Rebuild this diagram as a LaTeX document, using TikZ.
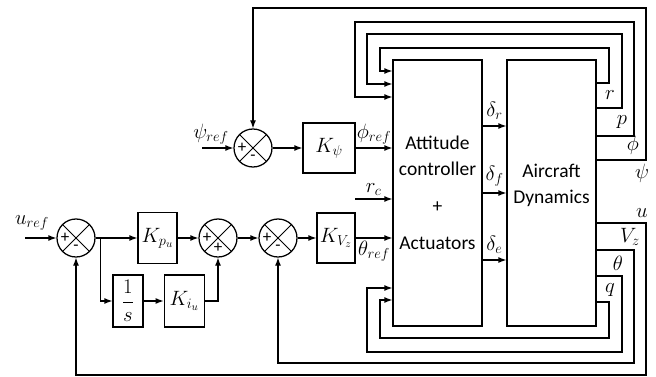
\documentclass[tikz,border=0pt]{standalone}
\usepackage{amsmath}
\usepackage{fontspec}
\setmainfont{Carlito}
\usetikzlibrary{arrows.meta,positioning}

\begin{document}
\begin{tikzpicture}[
    x=1pt, y=-1pt,
    line width=1.25pt,
    blk/.style={rectangle, draw, inner sep=0pt, align=center,
                font=\fontsize{21}{23}\selectfont},
    bigblk/.style={rectangle, draw, minimum width=89pt, minimum height=266pt,
                   align=center, font=\fontsize{19.5}{26}\selectfont},
    sumnode/.style={circle, draw, minimum size=38pt, inner sep=0pt},
    sgn/.style={font=\fontsize{17}{17}\selectfont, inner sep=0pt},
    lbl/.style={font=\fontsize{21}{23}\selectfont, inner sep=1pt},
    arrow/.style={-{Latex[length=8pt,width=6pt]}}
]
\useasboundingbox (0,0) rectangle (656,377);

%% ---- Blok utama ----
\node[bigblk] (att) at (437.5,193) {Attitude\\controller\\[11pt]+\\[11pt]Actuators};
\node[bigblk] (acd) at (551.5,193) {};
\node[font=\fontsize{19.5}{26}\selectfont, align=center] (acdtxt) at ([yshift=8pt]acd.center) {Aircraft\\Dynamics};

%% ---- Loop psi ----
\node[sumnode] (spsi) at (253,148) {};
\node[blk, minimum width=52pt, minimum height=50pt] (kpsi) at (329,148) {$K_\psi$};
\coordinate (psiin) at (202,148);
\node[lbl] (psireflbl) at (211,134) {$\psi_{ref}$};

%% ---- Loop u / Vz ----
\node[sumnode] (su)  at (76,238)  {};
\node[blk, minimum width=39pt, minimum height=51pt] (kpu) at (157.5,238) {$K_{p_u}$};
\node[sumnode] (spi) at (218,238) {};
\node[blk, minimum width=30pt, minimum height=52pt] (inv) at (128,301) {$\dfrac{1}{s}$};
\node[blk, minimum width=40pt, minimum height=52pt, right=20pt of inv] (kiu) {$K_{i_u}$};
\node[sumnode] (sv)  at (278,238) {};
\node[blk, minimum width=38pt, minimum height=50pt] (kvz) at (336,238) {$K_{V_z}$};
\coordinate (uin) at (25,238);
\node[lbl] (ureflbl) at (32,223) {$u_{ref}$};
\coordinate (rcin) at (355,199);

%% ---- Tanda sum ----
\foreach \s/\a/\b in {spsi/+/-, su/+/-, spi/+/+, sv/+/-} {
  \draw[line width=1pt] (\s.north west) -- (\s.south east)
                        (\s.north east) -- (\s.south west);
  \node[sgn] (\s-a) at ([xshift=-11pt]\s.center) {\a};
  \node[sgn] (\s-b) at ([yshift=-10pt]\s.center) {\b};
}

%% ---- Panah maju ----
\draw[arrow] (psiin)--(spsi.west);
\draw[arrow] (spsi)--(kpsi);
\draw[arrow] (kpsi.east)--(att.west |- kpsi)
    node[lbl, midway, above=2pt] {$\phi_{ref}$};
\draw[arrow] (rcin)--(att.west |- rcin)
    node[lbl, midway, above=2pt] {$r_c$};
\draw[arrow] (uin)--(su.west);
\draw[arrow] (su)--(kpu);
\draw[arrow] (kpu)--(spi);
\draw[arrow] ([xshift=5pt]su.east) |- (inv.west);
\draw[arrow] (inv)--(kiu);
\draw[arrow] (kiu.east) -| (spi.south);
\draw[arrow] (spi)--(sv);
\draw[arrow] (sv)--(kvz);
\draw[arrow] (kvz.east)--(att.west |- kvz)
    node[lbl, midway, below=1pt] {$\theta_{ref}$};
\draw[arrow] (att.east |- 0,126)--(acd.west |- 0,126)
    node[lbl, midway, above=5pt] {$\delta_r$};
\draw[arrow] (att.east |- 0,193)--(acd.west |- 0,193)
    node[lbl, midway, above=5pt] {$\delta_f$};
\draw[arrow] (att.east |- 0,260)--(acd.west |- 0,260)
    node[lbl, midway, above=5pt] {$\delta_e$};

%% ---- Umpan balik atas ----
\draw[arrow] (acd.east |- 0,83)  -| (609,48) -| (380,71) -- (att.west |- 0,71);
\draw[arrow] (acd.east |- 0,108) -| (622,34) -| (367,84) -- (att.west |- 0,84);
\draw[arrow] (acd.east |- 0,136) -| (634,22) -| (355,97) -- (att.west |- 0,97);
\draw[arrow] (acd.east |- 0,160) -| (646,8)  -| (spsi.north);

%% ---- Umpan balik bawah ----
\draw[arrow] (acd.east |- 0,223) -| (646,375) -| (su.south);
\draw[arrow] (acd.east |- 0,250) -| (634,363) -| (sv.south);
\draw[arrow] (acd.east |- 0,276) -| (622,352) -| (367,288) -- (att.west |- 0,288);
\draw[arrow] (acd.east |- 0,302) -| (609,338) -| (380,300) -- (att.west |- 0,300);

%% ---- Label keluaran ----
\node[lbl] (rlbl)   at (610,95)  {$r$};
\node[lbl] (plbl)   at (622,122) {$p$};
\node[lbl] (philbl) at (633,145) {$\phi$};
\node[lbl] (psilbl) at (642,173) {$\psi$};
\node[lbl] (ulbl)   at (642,213) {$u$};
\node[lbl] (vzlbl)  at (630,237) {$V_z$};
\node[lbl] (thlbl)  at (618,263) {$\theta$};
\node[lbl] (qlbl)   at (610,290) {$q$};

\end{tikzpicture}
\end{document}
